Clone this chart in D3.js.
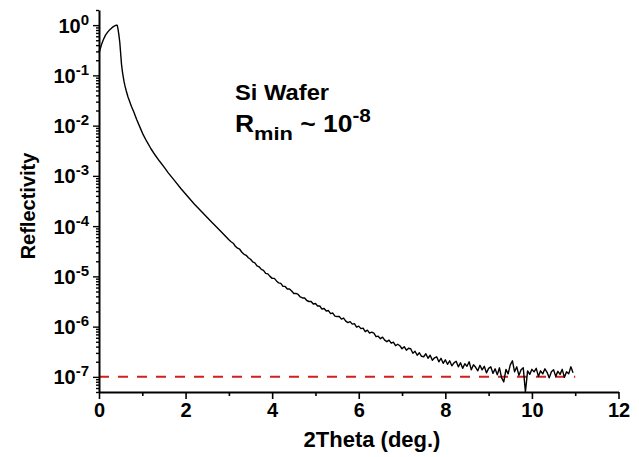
<!DOCTYPE html>
<html>
<head>
<meta charset="utf-8">
<script src="https://cdn.jsdelivr.net/npm/d3@7"></script>
<style>
  html, body { margin: 0; padding: 0; background: #fff; }
  svg { display: block; font-family: "Liberation Sans", Arial, sans-serif; font-weight: bold; }
</style>
</head>
<body>
<svg id="chart" width="639" height="457"></svg>
<script>
// ---- Data ----
const twoTheta = [
  0.00, 0.01, 0.03, 0.06, 0.10, 0.15, 0.20, 0.25, 0.30, 0.35, 0.40, 0.42, 0.44, 0.46, 0.48, 0.50, 0.52, 0.54, 0.56, 0.58,
  0.60, 0.63, 0.67, 0.70, 0.75, 0.80, 0.87, 0.95, 1.02, 1.10, 1.20, 1.30, 1.40, 1.50, 1.60, 1.75, 1.90, 2.03, 2.20, 2.40, 2.60, 2.80,
  3.00, 3.05, 3.10, 3.15, 3.20, 3.25, 3.30, 3.35, 3.40, 3.45, 3.50, 3.55, 3.60, 3.65, 3.70, 3.75, 3.80, 3.85, 3.90, 3.95,
  4.00, 4.05, 4.10, 4.15, 4.20, 4.25, 4.30, 4.35, 4.40, 4.45, 4.50, 4.55, 4.60, 4.65, 4.70, 4.75, 4.80, 4.85, 4.90, 4.95,
  5.00, 5.05, 5.10, 5.15, 5.20, 5.25, 5.30, 5.35, 5.40, 5.45, 5.50, 5.55, 5.60, 5.65, 5.70, 5.75, 5.80, 5.85, 5.90, 5.95,
  6.00, 6.05, 6.10, 6.15, 6.20, 6.25, 6.30, 6.35, 6.40, 6.45, 6.50, 6.55, 6.60, 6.65, 6.70, 6.75, 6.80, 6.85, 6.90, 6.95,
  7.00, 7.05, 7.10, 7.15, 7.20, 7.25, 7.30, 7.35, 7.40, 7.45, 7.50, 7.55, 7.60, 7.65, 7.70, 7.75, 7.80, 7.85, 7.90, 7.95,
  8.00, 8.05, 8.10, 8.15, 8.20, 8.25, 8.30, 8.35, 8.40, 8.45, 8.50, 8.55, 8.60, 8.65, 8.70, 8.75, 8.80, 8.85, 8.90, 8.95,
  9.00, 9.05, 9.10, 9.15, 9.20, 9.25, 9.30, 9.35, 9.40, 9.45, 9.50, 9.55, 9.60, 9.65, 9.70, 9.75, 9.80, 9.85, 9.90, 9.95,
  10.00, 10.05, 10.10, 10.15, 10.20, 10.25, 10.30, 10.35, 10.40, 10.45, 10.50, 10.55, 10.60, 10.65, 10.70, 10.75, 10.80, 10.85, 10.90, 10.95
];
// log10 of the reflectivity
const log10Reflectivity = [
  -0.50, -0.53, -0.47, -0.38, -0.29, -0.20, -0.14, -0.09, -0.05, -0.02, 0.00, 0.00, -0.08, -0.20, -0.34, -0.56, -0.78, -0.92, -1.03, -1.13,
  -1.21, -1.31, -1.43, -1.50, -1.62, -1.72, -1.88, -2.04, -2.18, -2.31, -2.46, -2.59, -2.71, -2.82, -2.94, -3.10, -3.26, -3.39, -3.56, -3.74, -3.92, -4.09,
  -4.27, -4.31, -4.34, -4.40, -4.44, -4.46, -4.52, -4.56, -4.58, -4.63, -4.66, -4.71, -4.73, -4.79, -4.81, -4.86, -4.88, -4.94, -4.95, -5.00,
  -5.04, -5.04, -5.09, -5.13, -5.14, -5.20, -5.20, -5.25, -5.25, -5.29, -5.34, -5.34, -5.36, -5.41, -5.43, -5.43, -5.48, -5.50, -5.50, -5.55,
  -5.54, -5.59, -5.59, -5.65, -5.64, -5.69, -5.68, -5.74, -5.73, -5.79, -5.80, -5.80, -5.85, -5.83, -5.89, -5.92, -5.90, -5.95, -5.94, -6.01,
  -5.99, -6.04, -6.03, -6.10, -6.07, -6.13, -6.11, -6.13, -6.20, -6.19, -6.24, -6.21, -6.27, -6.30, -6.27, -6.33, -6.31, -6.38, -6.35, -6.38,
  -6.44, -6.40, -6.47, -6.43, -6.44, -6.53, -6.49, -6.57, -6.52, -6.59, -6.60, -6.54, -6.63, -6.57, -6.67, -6.62, -6.60, -6.70, -6.63, -6.73,
  -6.66, -6.75, -6.68, -6.78, -6.72, -6.69, -6.80, -6.72, -6.83, -6.74, -6.79, -6.70, -6.86, -6.76, -6.81, -6.88, -6.77, -6.86, -6.79, -6.92,
  -6.83, -6.80, -6.93, -6.84, -6.96, -6.82, -7.02, -7.10, -6.85, -6.94, -6.76, -6.68, -6.90, -6.80, -6.97, -6.86, -6.82, -7.30, -6.88, -6.95,
  -6.85, -6.90, -6.83, -6.99, -6.88, -6.94, -6.84, -6.91, -7.02, -6.90, -6.86, -6.99, -6.89, -6.95, -6.85, -7.01, -6.90, -6.94, -6.80, -6.92
];
const xTickValues = [0, 2, 4, 6, 8, 10, 12];
const xMinorTickValues = [1, 3, 5, 7, 9, 11];
const yTickExponents = [-7, -6, -5, -4, -3, -2, -1, 0];
const yMinorMultipliers = [2, 3, 4, 5, 6, 7, 8, 9];
const rMinLineX = [0, 11];
const rMinLineValue = 1e-7;
const xTitle = "2Theta (deg.)";
const yTitle = "Reflectivity";

// ---- Layout ----
const svg = d3.select("#chart");
const x = d3.scaleLinear().domain([0, 12]).range([99, 618.5]);
const y = d3.scaleLog().domain([5e-8, 2]).range([392, 10]);

// reference line
svg.append("line")
  .attr("x1", x(rMinLineX[0])).attr("x2", x(rMinLineX[1]))
  .attr("y1", y(rMinLineValue)).attr("y2", y(rMinLineValue))
  .attr("stroke", "#d02020").attr("stroke-width", 2)
  .attr("stroke-dasharray", "10,9");

// curve
const data = twoTheta.map((t, i) => ({ t, r: Math.pow(10, log10Reflectivity[i]) }));
svg.append("path")
  .datum(data)
  .attr("fill", "none")
  .attr("stroke", "#000")
  .attr("stroke-width", 1.4)
  .attr("stroke-linejoin", "round")
  .attr("d", d3.line().x(d => x(d.t)).y(d => y(d.r)));

// x axis
const xAxisG = svg.append("g").attr("transform", `translate(0,${y.range()[0]})`);
xAxisG.call(d3.axisBottom(x).tickValues(xTickValues).tickSize(7).tickSizeOuter(0).tickFormat(d3.format("d")));
xAxisG.append("g").call(d3.axisBottom(x).tickValues(xMinorTickValues).tickSize(4).tickFormat(""))
  .select(".domain").remove();
xAxisG.selectAll(".domain").attr("stroke-width", 2);
xAxisG.selectAll(".tick line").attr("stroke-width", 1.6);
xAxisG.selectAll(".tick text")
  .attr("font-size", 20).attr("font-weight", "bold").attr("fill", "#000")
  .attr("font-family", "Liberation Sans, Arial, sans-serif")
  .attr("y", 11).attr("dy", "0.71em");

// y axis
const yAxisG = svg.append("g").attr("transform", `translate(${x.range()[0]},0)`);
const majorY = yTickExponents.map(e => Math.pow(10, e));
const minorY = [];
[-8].concat(yTickExponents).forEach(e => yMinorMultipliers.forEach(m => {
  const v = m * Math.pow(10, e);
  if (v >= y.domain()[0] && v <= y.domain()[1]) minorY.push(v);
}));
yAxisG.call(d3.axisLeft(y).tickValues(majorY).tickSize(6).tickSizeOuter(0).tickFormat(""));
yAxisG.append("g").call(d3.axisLeft(y).tickValues(minorY).tickSize(3).tickFormat(""))
  .select(".domain").remove();
yAxisG.selectAll(".domain").attr("stroke-width", 2);
yAxisG.selectAll(".tick line").attr("stroke-width", 1.4);

// y tick labels 10^n
yTickExponents.forEach(e => {
  const t = svg.append("text")
    .attr("x", 89).attr("y", y(Math.pow(10, e)) + 7.5)
    .attr("text-anchor", "end")
    .attr("font-size", 20).attr("fill", "#000");
  t.append("tspan").text("10");
  t.append("tspan").attr("font-size", 15).attr("dy", -8).text(e === 0 ? "0" : "-" + Math.abs(e));
});

// axis titles
svg.append("text")
  .attr("x", 372).attr("y", 447)
  .attr("text-anchor", "middle").attr("font-size", 22).attr("fill", "#000")
  .text(xTitle);
svg.append("text")
  .attr("transform", `translate(35,206) rotate(-90)`)
  .attr("text-anchor", "middle").attr("font-size", 20).attr("fill", "#000")
  .text(yTitle);

// annotation
svg.append("g").attr("transform", "translate(235,100) scale(1.08,1)")
  .append("text").attr("font-size", 22).attr("fill", "#000")
  .text("Si Wafer");
const ann = svg.append("g").attr("transform", "translate(235,131.5) scale(1.15,1)")
  .append("text").attr("font-size", 23).attr("fill", "#000");
ann.append("tspan").text("R");
ann.append("tspan").attr("font-size", 19).attr("dy", 8).text("min");
ann.append("tspan").attr("dy", -8).text(" ~ 10");
ann.append("tspan").attr("font-size", 18).attr("dy", -10).text("-8");
</script>
</body>
</html>
